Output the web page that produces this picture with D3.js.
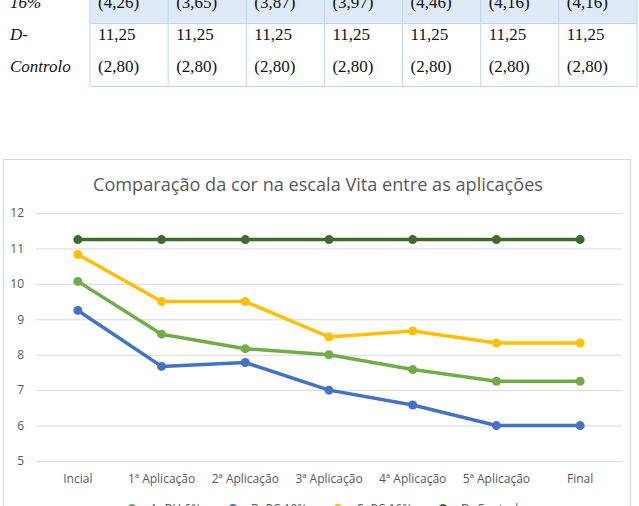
<!DOCTYPE html>
<html><head><meta charset="utf-8">
<script src="https://cdn.jsdelivr.net/npm/d3@7"></script>
<style>body{margin:0;background:#fff;}svg{display:block;}</style>
</head><body>
<svg id="c" width="639" height="506"></svg>
<script>
const categories = ["Incial","1ª Aplicação","2ª Aplicação","3ª Aplicação","4ª Aplicação","5ª Aplicação","Final"];
const seriesNames = ["A- BH 6%","B- PC 10%","C- PC 16%","D- Controlo"];
const seriesA = [10.07, 8.58, 8.17, 8.00, 7.58, 7.25, 7.25];
const seriesB = [9.25, 7.67, 7.78, 7.00, 6.58, 6.00, 6.00];
const seriesC = [10.83, 9.50, 9.50, 8.50, 8.67, 8.33, 8.33];
const seriesD = [11.25, 11.25, 11.25, 11.25, 11.25, 11.25, 11.25];
const colors = ["#70AD47","#4472C4","#FFC000","#43682B"];
const yTicks = [5,6,7,8,9,10,11,12];
const title = "Comparação da cor na escala Vita entre as aplicações";
// table fragment
const tableRowC = ["(4,26)","(3,65)","(3,87)","(3,97)","(4,46)","(4,16)","(4,16)"];
const tableRowDmean = ["11,25","11,25","11,25","11,25","11,25","11,25","11,25"];
const tableRowDsd = ["(2,80)","(2,80)","(2,80)","(2,80)","(2,80)","(2,80)","(2,80)"];

const svg = d3.select("#c");

// ---- table ----
const tcol = d3.scaleBand().domain(d3.range(7)).range([90, 637]);
const tb = svg.append("g");
tb.append("rect").attr("x",90).attr("y",-10).attr("width",547).attr("height",33).attr("fill","#DEEAF6");
tb.selectAll("line.v").data(d3.range(8)).join("line")
  .attr("x1",i=>i<7?tcol(i):637).attr("x2",i=>i<7?tcol(i):637)
  .attr("y1",-10).attr("y2",86).attr("stroke","#BDD7EE").attr("stroke-width",1);
tb.append("line").attr("x1",90).attr("x2",637).attr("y1",23.5).attr("y2",23.5).attr("stroke","#BDD7EE");
tb.append("line").attr("x1",90).attr("x2",637).attr("y1",86.5).attr("y2",86.5).attr("stroke","#BDD7EE");
const serif = "'Liberation Serif','Times New Roman',serif";
tb.append("text").attr("x",10).attr("y",8).attr("font-family",serif).attr("font-style","italic").attr("font-size",17).attr("fill","#111").text("16%");
tb.append("text").attr("x",10).attr("y",40).attr("font-family",serif).attr("font-style","italic").attr("font-size",17).attr("fill","#111").text("D-");
tb.append("text").attr("x",10).attr("y",72).attr("font-family",serif).attr("font-style","italic").attr("font-size",17).attr("fill","#111").text("Controlo");
[[tableRowC,8],[tableRowDmean,40],[tableRowDsd,72]].forEach(([row,y])=>{
  tb.selectAll(null).data(row).join("text")
    .attr("x",(d,i)=>tcol(i)+8).attr("y",y)
    .attr("font-family",serif).attr("font-size",17).attr("fill","#111").text(d=>d);
});

// ---- chart ----
svg.append("rect").attr("x",3.5).attr("y",159.5).attr("width",627).attr("height",360)
  .attr("fill","#fff").attr("stroke","#D9D9D9");
const sans = "'Open Sans', 'Noto Sans', sans-serif";
svg.append("text").attr("x",318).attr("y",191).attr("text-anchor","middle")
  .attr("font-family",sans).attr("font-size",18).attr("fill","#595959")
  .attr("textLength",450).attr("lengthAdjust","spacingAndGlyphs").text(title);

const x = d3.scaleBand().domain(categories).range([36,622]);
const y = d3.scaleLinear().domain([5,12]).range([461,213]);

const yAxis = svg.append("g").attr("transform","translate(36,0)")
  .call(d3.axisLeft(y).tickValues(yTicks).tickFormat(d3.format("d")).tickSize(-586).tickPadding(12));
yAxis.select(".domain").remove();
yAxis.selectAll("line").attr("stroke","#D9D9D9");
yAxis.selectAll("text").attr("font-family",sans).attr("font-size",12).attr("fill","#595959");

const xAxis = svg.append("g").attr("transform","translate(0,461)")
  .call(d3.axisBottom(x).tickSize(0).tickPadding(13));
xAxis.select(".domain").remove();
xAxis.selectAll("text").attr("font-family",sans).attr("font-size",12).attr("fill","#595959");

const allSeries = [seriesA, seriesB, seriesC, seriesD];
const line = d3.line().x((d,i)=>x(categories[i])+x.bandwidth()/2).y(d=>y(d));
allSeries.forEach((s,k)=>{
  const g = svg.append("g");
  g.append("path").datum(s).attr("d",line).attr("fill","none")
    .attr("stroke",colors[k]).attr("stroke-width",3.5).attr("stroke-linejoin","round").attr("stroke-linecap","round");
  g.selectAll("circle").data(s).join("circle")
    .attr("cx",(d,i)=>x(categories[i])+x.bandwidth()/2).attr("cy",d=>y(d))
    .attr("r",4.5).attr("fill",colors[k]);
});

// legend (mostly cropped at bottom)
const legX = [132, 233, 338, 443];
const lg = svg.append("g");
seriesNames.forEach((n,k)=>{
  lg.append("line").attr("x1",legX[k]-12).attr("x2",legX[k]+12).attr("y1",508.5).attr("y2",508.5)
    .attr("stroke",colors[k]).attr("stroke-width",3.5);
  lg.append("circle").attr("cx",legX[k]).attr("cy",508.5).attr("r",4.5).attr("fill",colors[k]);
  lg.append("text").attr("x",legX[k]+18).attr("y",513).attr("font-family",sans).attr("font-size",12)
    .attr("fill","#595959").text(n);
});
</script>
</body></html>
